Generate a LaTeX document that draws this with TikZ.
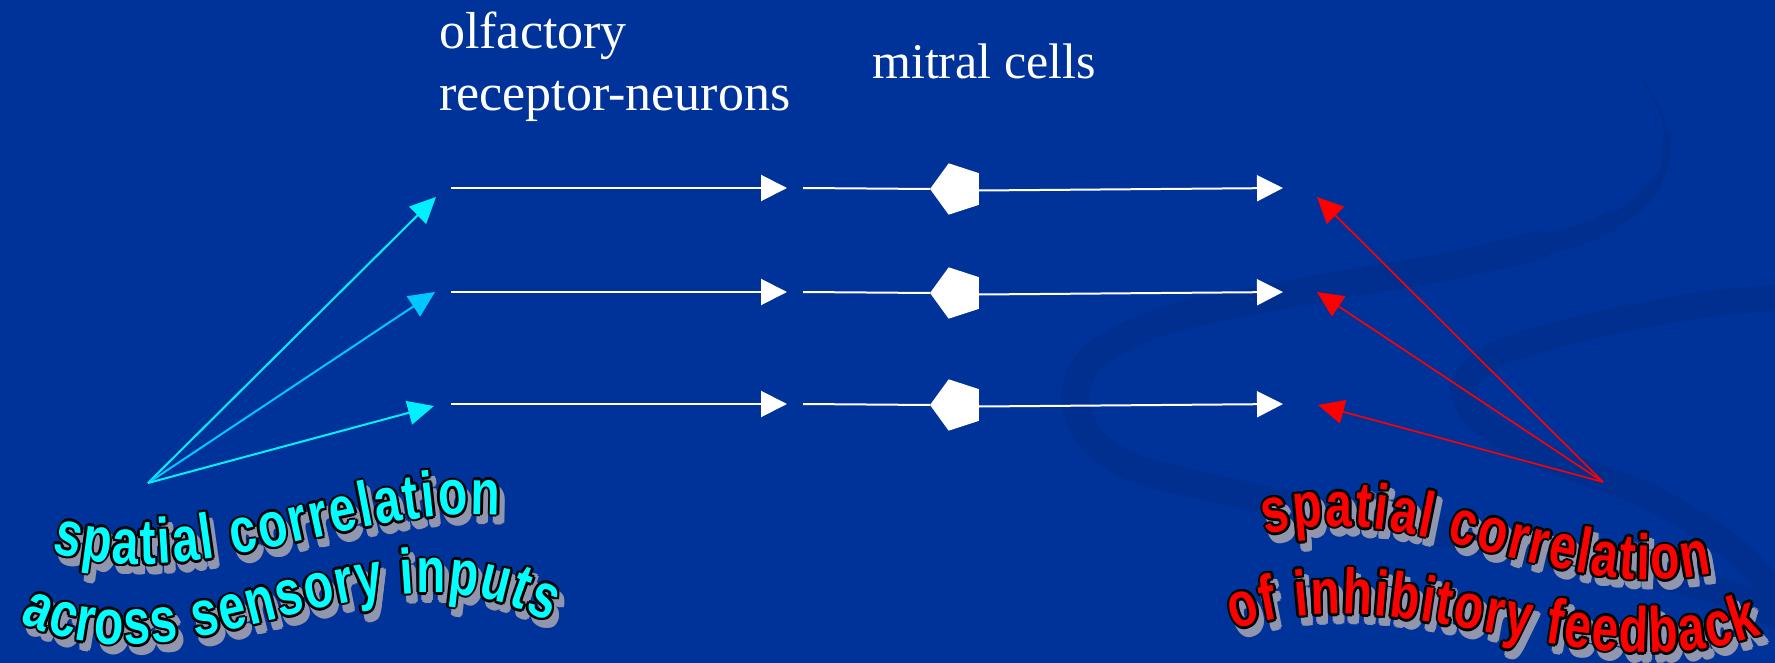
\documentclass[tikz,border=0pt]{standalone}
\usepackage{fontspec}
\setmainfont{Liberation Serif}
\newfontfamily\wafam{Liberation Sans}[FakeStretch=0.75]
\usetikzlibrary{arrows.meta, shapes.geometric, decorations.text}
\definecolor{bgblue}{RGB}{0,51,153}
\definecolor{ribbon}{RGB}{0,47,144}
\definecolor{cyanA}{RGB}{0,240,255}
\definecolor{cyanB}{RGB}{0,200,255}
\definecolor{redA}{RGB}{255,0,0}
\definecolor{wshadow}{RGB}{145,150,175}
\definecolor{wcyan}{RGB}{0,255,255}
\newcommand{\wafill}{\wafam\bfseries\fontsize{64pt}{64pt}\selectfont}
% one pass of word-art text: #1 colour, #2 shift, #3 text, #4 path
\newcommand{\wapass}[4]{%
  \path[decorate, decoration={text along path, text align=fit to path,
    text={|\wafill\color{#1}|#3}}, shift={#2}] #4;}
% #1 fill colour, #2 text, #3 path
\newcommand{\wordart}[3]{%
  \foreach \dx/\dy in {2.5/0, -2.5/0, 0/2.5, 0/-2.5, 1.8/1.8, 1.8/-1.8, -1.8/1.8, -1.8/-1.8}{%
    \wapass{wshadow}{(5+\dx,8+\dy)}{#2}{#3}}%
  \foreach \dx/\dy in {2.5/0, -2.5/0, 0/2.5, 0/-2.5, 1.8/1.8, 1.8/-1.8, -1.8/1.8, -1.8/-1.8}{%
    \wapass{black}{(\dx,\dy)}{#2}{#3}}%
  \wapass{#1}{(0,0)}{#2}{#3}%
}
\tikzset{
  wline/.style={draw=white, line width=2pt},
  warrow/.style={wline, -{Triangle[length=26pt,width=26pt]}},
  carrow/.style={line width=2pt, -{Triangle[length=26pt,width=24pt]}},
  rarrow/.style={draw=redA, line width=1.6pt, -{Triangle[length=26pt,width=24pt]}},
  pent/.style={regular polygon, regular polygon sides=5, shape border rotate=90,
    fill=white, draw=none, inner sep=0pt, outer sep=0pt, minimum size=54pt},
  toplabel/.style={text=white, inner sep=0pt},
  ribbonline/.style={draw=ribbon, line cap=round},
}
\begin{document}
\begin{tikzpicture}[x=1pt, y=-1pt]
\useasboundingbox (0,0) rectangle (1775,663);
\fill[bgblue] (0,0) rectangle (1775,663);
% background ribbons
\draw[ribbonline, line width=3pt] plot[smooth] coordinates {(1643,80) (1660,110) (1667,135)};
\draw[ribbonline, line width=8pt] plot[smooth] coordinates {(1667,135) (1665,165) (1655,185)};
\draw[ribbonline, line width=14pt] plot[smooth] coordinates {(1655,185) (1635,207) (1610,222)};
\draw[ribbonline, line width=20pt] plot[smooth] coordinates {(1610,222) (1580,235) (1540,245)};
\draw[ribbonline, line width=28pt] plot[smooth] coordinates {(1540,245) (1450,266) (1300,292) (1167,320) (1095,355) (1075,397) (1092,440) (1140,470) (1267,500) (1400,525) (1550,555) (1700,585) (1790,620)};
\draw[ribbonline, line width=26pt] plot[smooth] coordinates {(1790,297) (1700,305) (1583,328) (1495,355) (1463,388) (1482,422) (1540,455) (1650,497) (1735,550) (1790,610)};
% labels
\node[toplabel, font=\fontsize{52pt}{52pt}\selectfont, anchor=base west] (olf) at (439,49) {olfactory};
\node[toplabel, font=\fontsize{52pt}{52pt}\selectfont, anchor=base west] (rec) at (439,111) {receptor-neurons};
\node[toplabel, font=\fontsize{50pt}{50pt}\selectfont, anchor=base west] (mit) at (872,79) {mitral cells};
% rows
\foreach \i/\y in {1/188, 2/292, 3/404}{
  \coordinate (a\i s) at (451,\y);
  \coordinate (a\i e) at (787,\y);
  \coordinate (b\i s) at (803,\y);
  \node[pent] (m\i) at (957,\y+1) {};
  \coordinate (c\i e) at (1283,\y);
  \draw[warrow] (a\i s) -- (a\i e);
  \draw[wline] (b\i s) -- (m\i.west);
  \draw[warrow] ([yshift=-1.5pt]m\i.east) -- (c\i e);
}
% cyan input arrows
\coordinate (cyo) at (148,483);
\coordinate (ct1) at (436,197);
\coordinate (ct2) at (435,292);
\coordinate (ct3) at (434,406);
\draw[carrow, draw=cyanA, fill=cyanA] (cyo) -- (ct1);
\draw[carrow, draw=cyanB, fill=cyanB] (cyo) -- (ct2);
\draw[carrow, draw=cyanA, fill=cyanA] (cyo) -- (ct3);
% red feedback arrows
\coordinate (rdo) at (1603,482);
\coordinate (rt1) at (1317,197);
\coordinate (rt2) at (1317,292);
\coordinate (rt3) at (1318,405);
\draw[rarrow, fill=redA] (rdo) -- (rt1);
\draw[rarrow, fill=redA] (rdo) -- (rt2);
\draw[rarrow, fill=redA] (rdo) -- (rt3);
% word art
\wordart{wcyan}{spatial correlation}{(52,552) .. controls (201.3,595.9) and (350.7,505.8) .. (500,515)}
\wordart{wcyan}{across sensory inputs}{(20,622) .. controls (196,704.2) and (372,526.5) .. (548,622)}
\wordart{redA}{spatial correlation}{(1266,535) .. controls (1414.7,495.2) and (1563.3,607.2) .. (1712,573)}
\wordart{redA}{of inhibitory feedback}{(1234,630) .. controls (1410,571.6) and (1586,698.1) .. (1762,634)}
\end{tikzpicture}
\end{document}
